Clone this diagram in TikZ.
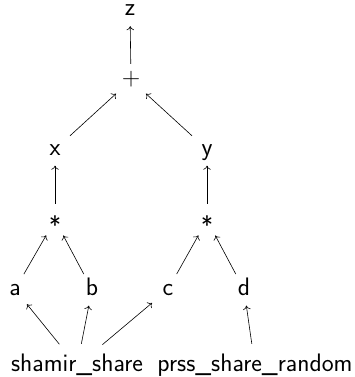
\documentclass[tikz,border=0pt]{standalone}
\usetikzlibrary{shapes.geometric,arrows.meta}
\begin{document}
\begin{tikzpicture}[x=1pt,y=-1pt,
  every node/.style={font=\fontsize{25.3}{30}\selectfont\sffamily},
  lbl/.style={ellipse, minimum width=56pt, minimum height=32pt, inner sep=0pt, text height=11pt, text depth=0pt},
  srcnode/.style={ellipse, minimum height=44pt, inner sep=0pt, text height=11pt, text depth=0pt},
  edgearrow/.style={-{To[length=4pt,width=7.5pt]}, line width=0.6pt}]
\useasboundingbox (0,0) rectangle (354,377);
\node[lbl] (z) at (130,10) {z};
\node[lbl] (plus) at (131,80) {+};
\node[lbl] (x) at (55,149.5) {x};
\node[lbl] (y) at (207,149.5) {y};
\node[lbl] (m1) at (55,220) {\raisebox{-9pt}{*}};
\node[lbl] (m2) at (207,220) {\raisebox{-9pt}{*}};
\node[lbl] (a) at (15,289.5) {a};
\node[lbl] (b) at (92,289.5) {b};
\node[lbl] (c) at (168,289.5) {c};
\node[lbl] (d) at (244,289.5) {d};
\node[srcnode] (sh) at (77,366) {shamir\_share};
\node[srcnode] (pr) at (255,366) {prss\_share\_random};
\draw[edgearrow] (plus) -- (z);
\draw[edgearrow] (x) -- (plus);
\draw[edgearrow] (y) -- (plus);
\draw[edgearrow] (m1) -- (x);
\draw[edgearrow] (m2) -- (y);
\draw[edgearrow] (a) -- (m1);
\draw[edgearrow] (b) -- (m1);
\draw[edgearrow] (c) -- (m2);
\draw[edgearrow] (d) -- (m2);
\draw[edgearrow] (sh) -- (a);
\draw[edgearrow] (sh) -- (b);
\draw[edgearrow] (sh) -- (c);
\draw[edgearrow] (pr) -- (d);
\end{tikzpicture}
\end{document}
